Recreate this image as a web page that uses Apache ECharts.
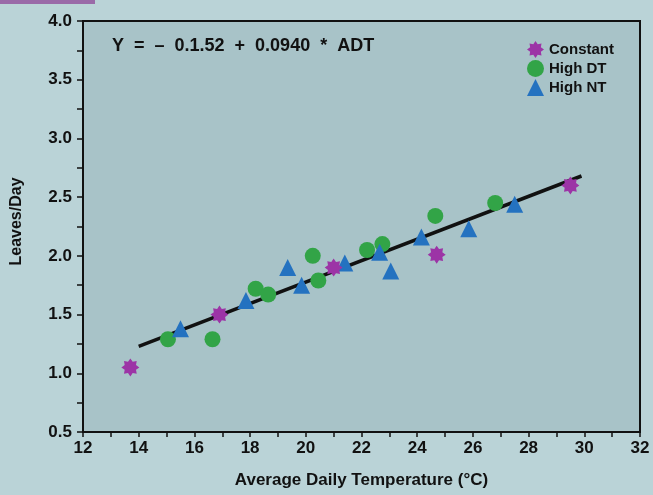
<!DOCTYPE html>
<html>
<head>
<meta charset="utf-8">
<script src="https://cdn.jsdelivr.net/npm/echarts@6/dist/echarts.min.js"></script>
<style>
  html, body { margin: 0; padding: 0; background: #bad3d7; }
  #chart { width: 653px; height: 495px; }
</style>
</head>
<body>
<div id="chart"></div>
<script>
// data: [ADT (°C), leaves/day]
const constantPts = [[13.7, 1.05], [16.9, 1.5], [21.0, 1.9], [24.7, 2.01], [29.5, 2.6]]
const highDTPts = [
  [15.05, 1.29], [16.65, 1.29], [18.2, 1.72], [18.65, 1.67], [20.25, 2.0],
  [20.45, 1.79], [22.2, 2.05], [22.75, 2.1], [24.65, 2.34], [26.8, 2.45]
]
const highNTPts = [
  [15.5, 1.38], [17.85, 1.62], [19.35, 1.9], [19.85, 1.75], [21.4, 1.94],
  [22.65, 2.03], [23.05, 1.87], [24.15, 2.16], [25.85, 2.23], [27.5, 2.44]
]
const fitLine = [[14.0, 1.23], [29.9, 2.68]]
const equationText = "Y  =  \u2013  0.1.52  +  0.0940  *  ADT"

// 8-pointed star used for "Constant"
const starPath = (() => {
  let d = ""
  for (let i = 0; i < 16; i++) {
    const r = i % 2 === 0 ? 10 : 6.8
    const a = (Math.PI / 8) * i - Math.PI / 2
    d += (i === 0 ? "M" : "L") + (10 + r * Math.cos(a)).toFixed(2) + " " + (10 + r * Math.sin(a)).toFixed(2)
  }
  return "path://" + d + "Z"
})()

const boldFont = "'Liberation Sans', Arial, sans-serif"
const narrowFont = "'Liberation Sans Narrow', 'Liberation Sans', Arial, sans-serif"

const chart = echarts.init(document.getElementById("chart"))

const option = {
  backgroundColor: "#bad3d7",
  animation: false,
  graphic: [
    { type: "rect", left: 0, top: 0, shape: { width: 95, height: 4 }, style: { fill: "#9a6aa8" } },
    {
      type: "text", left: 112, top: 37,
      style: { text: equationText, fill: "#111", font: "bold 18px " + boldFont }
    }
  ],
  grid: {
    left: 83, right: 13, top: 21, bottom: 63,
    show: true,
    backgroundColor: "#a8c3c8",
    borderColor: "#111",
    borderWidth: 2
  },
  legend: {
    orient: "vertical",
    left: 522,
    top: 36,
    itemWidth: 17,
    itemHeight: 17,
    itemGap: 2,
    textStyle: { color: "#111", fontSize: 15, fontWeight: "bold", fontFamily: narrowFont },
    data: [
      { name: "Constant", icon: starPath },
      { name: "High DT", icon: "circle" },
      { name: "High NT", icon: "triangle" }
    ]
  },
  xAxis: {
    type: "value",
    min: 12, max: 32, interval: 2,
    name: "Average Daily Temperature (\u00b0C)",
    nameLocation: "middle",
    nameGap: 40,
    nameTextStyle: { color: "#111", fontSize: 17, fontWeight: "bold", fontFamily: narrowFont },
    axisLine: { lineStyle: { color: "#111", width: 2 } },
    axisTick: { length: 5, lineStyle: { color: "#111", width: 1.5 } },
    minorTick: { show: true, splitNumber: 2, length: 5, lineStyle: { color: "#111", width: 1.5 } },
    axisLabel: { color: "#111", fontSize: 17, fontWeight: "bold", fontFamily: boldFont, margin: 8 },
    splitLine: { show: false }
  },
  yAxis: {
    type: "value",
    min: 0.5, max: 4, interval: 0.5,
    name: "Leaves/Day",
    nameLocation: "middle",
    nameGap: 58,
    nameTextStyle: { color: "#111", fontSize: 16, fontWeight: "bold", fontFamily: narrowFont, padding: [0, 0, 0, 10] },
    axisLine: { lineStyle: { color: "#111", width: 2 } },
    axisTick: { length: 6, lineStyle: { color: "#111", width: 1.5 } },
    minorTick: { show: true, splitNumber: 2, length: 6, lineStyle: { color: "#111", width: 1.5 } },
    axisLabel: {
      color: "#111", fontSize: 17, fontWeight: "bold", fontFamily: boldFont, margin: 11,
      formatter: (v) => v.toFixed(1)
    },
    splitLine: { show: false }
  },
  series: [
    {
      name: "fit",
      type: "line",
      data: fitLine,
      symbol: "none",
      lineStyle: { color: "#111", width: 3.5 },
      z: 1
    },
    {
      name: "Constant",
      type: "scatter",
      data: constantPts,
      symbol: starPath,
      symbolSize: 18,
      itemStyle: { color: "#9c34a6", opacity: 1 },
      z: 3
    },
    {
      name: "High DT",
      type: "scatter",
      data: highDTPts,
      symbol: "circle",
      symbolSize: 16,
      itemStyle: { color: "#32a447", opacity: 1 },
      z: 2
    },
    {
      name: "High NT",
      type: "scatter",
      data: highNTPts,
      symbol: "triangle",
      symbolSize: 17,
      itemStyle: { color: "#2472c0", opacity: 1 },
      z: 2
    }
  ]
}

chart.setOption(option)
</script>
</body>
</html>
